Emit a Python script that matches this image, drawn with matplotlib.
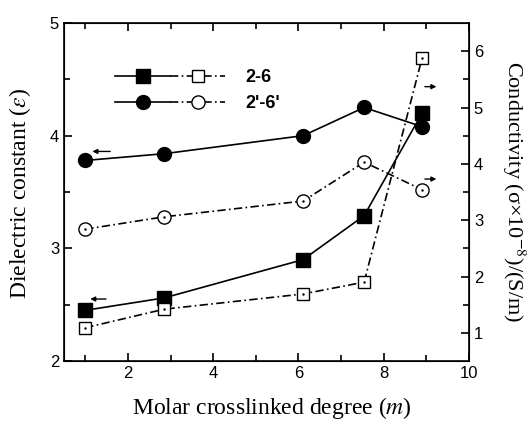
import matplotlib
matplotlib.use('Agg')
import matplotlib.pyplot as plt
from matplotlib.legend_handler import HandlerTuple

m = [1.0, 2.85, 6.11, 7.54, 8.9]

# dielectric constant (left axis)
eps_26 = [2.45, 2.56, 2.90, 3.29, 4.20]
eps_2p6p = [3.78, 3.84, 4.00, 4.25, 4.08]

# conductivity x1e-8 S/m (right axis)
sig_26 = [1.09, 1.42, 1.69, 1.90, 5.88]
sig_2p6p = [2.84, 3.06, 3.34, 4.03, 3.54]

plt.rcParams['font.family'] = 'Liberation Sans'
plt.rcParams['mathtext.fontset'] = 'stix'

fig = plt.figure(figsize=(5.3, 4.23), dpi=100)
ax = fig.add_axes([64/530, 1-361/423, 405/530, 338/423])
ax2 = ax.twinx()

ms = 9.5
dashdot = (0, (5, 2, 1, 2))
h1, = ax.plot(m, eps_26, '-', color='k', marker='s', ms=ms, lw=1.2, zorder=3)
h2, = ax.plot(m, eps_2p6p, '-', color='k', marker='o', ms=ms+0.5, lw=1.2, zorder=3)

h3, = ax2.plot(m, sig_26, linestyle=dashdot, color='k', marker='s', ms=ms-1.5,
               mfc='white', mec='k', mew=1.0, lw=1.2)
h4, = ax2.plot(m, sig_2p6p, linestyle=dashdot, color='k', marker='o', ms=ms,
               mfc='white', mec='k', mew=1.0, lw=1.2)
# centre dots of the open markers
ax2.plot(m, sig_26, '.', color='k', ms=1.5)
ax2.plot(m, sig_2p6p, '.', color='k', ms=1.5)

ax.set_xlim(0.5, 10)
ax.set_ylim(2, 5)
ax2.set_ylim(0.5, 6.5)

ax.set_xticks([2, 4, 6, 8, 10])
ax.set_xticks([1, 3, 5, 7, 9], minor=True)
ax.set_yticks([2, 3, 4, 5])
ax.set_yticks([2.5, 3.5, 4.5], minor=True)
ax2.set_yticks([1, 2, 3, 4, 5, 6])
ax2.set_yticks([1.5, 2.5, 3.5, 4.5, 5.5], minor=True)

for a in (ax, ax2):
    a.tick_params(which='both', direction='in', labelsize=12, width=1.2)
    a.tick_params(which='major', length=6)
    a.tick_params(which='minor', length=4)
ax.tick_params(which='both', top=True)
for sp in ax.spines.values():
    sp.set_linewidth(1.2)

ax.set_xlabel('Molar crosslinked degree ($m$)', family='Liberation Serif', fontsize=17)
ax.xaxis.set_label_coords(0.514, -0.10)
ax.set_ylabel(r'Dielectric constant ($\varepsilon$)', family='Liberation Serif', fontsize=17)
ax.yaxis.set_label_coords(-0.076, 0.494)
ax2.set_ylabel(r'Conductivity (σ×10$^{-8}$)/(S/m)', family='Liberation Serif',
               fontsize=16, rotation=-90, va='bottom')
ax2.yaxis.set_label_coords(1.076, 0.5)

# arrows pointing to the axis each curve belongs to
arw = dict(arrowstyle='-|>', color='k', lw=1.0, mutation_scale=7)
ax.annotate('', xy=(1.1, 3.86), xytext=(1.65, 3.86), arrowprops=arw)
ax.annotate('', xy=(1.05, 2.55), xytext=(1.55, 2.55), arrowprops=arw)
ax2.annotate('', xy=(9.3, 5.37), xytext=(8.9, 5.37), arrowprops=arw)
ax2.annotate('', xy=(9.3, 3.73), xytext=(8.9, 3.73), arrowprops=arw)

leg = ax.legend([(h1, h3), (h2, h4)], ['2-6', "2'-6'"],
                handler_map={tuple: HandlerTuple(ndivide=None, pad=0)},
                handlelength=6.1, loc='center left', bbox_to_anchor=(0.126, 0.80),
                borderpad=0, borderaxespad=0,
                frameon=False, prop={'weight': 'bold', 'size': 13},
                handletextpad=1.1, labelspacing=0.5)

fig.savefig('out.png', dpi=100)
